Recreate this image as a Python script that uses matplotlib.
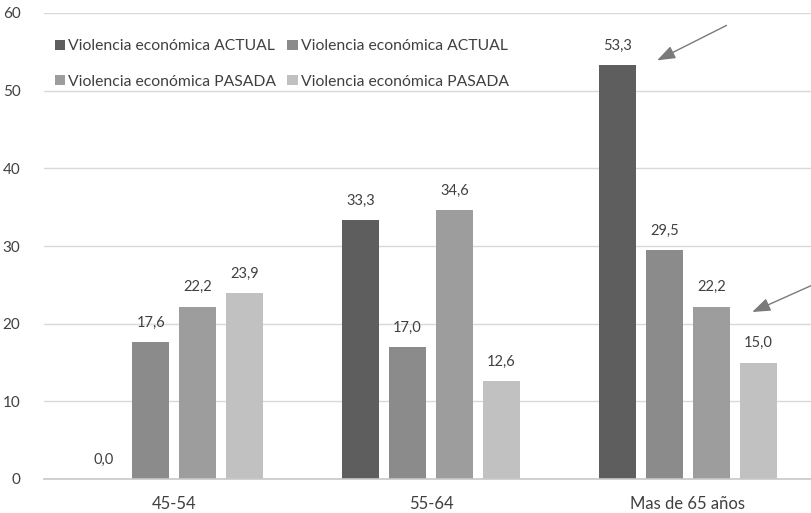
import matplotlib
matplotlib.use("Agg")
import matplotlib.pyplot as plt
import numpy as np

categories = ["45-54", "55-64", "Mas de 65 años"]
series_names = ["Violencia económica ACTUAL", "Violencia económica ACTUAL",
                "Violencia económica PASADA", "Violencia económica PASADA"]
s1 = [0.0, 33.3, 53.3]
s2 = [17.6, 17.0, 29.5]
s3 = [22.2, 34.6, 22.2]
s4 = [23.9, 12.6, 15.0]
colors = ["#5e5e5e", "#8b8b8b", "#9d9d9d", "#c1c1c1"]
yticks = [0, 10, 20, 30, 40, 50, 60]

plt.rcParams["font.family"] = ["Lato", "DejaVu Sans"]
fig = plt.figure(figsize=(8.11, 5.13), dpi=100)
ax = fig.add_axes([44 / 811, 34 / 513, 767 / 811, 466 / 513])

x = np.arange(len(categories))
width = 0.144
pitch = 0.182
offsets = (np.arange(4) - 1.5) * pitch
handles = []
for vals, off, col, name in zip([s1, s2, s3, s4], offsets, colors, series_names):
    bars = ax.bar(x + off, vals, width=width, color=col, label=name, zorder=2)
    handles.append(bars)
    for xi, v in zip(x + off, vals):
        ax.text(xi, v + 1.6, f"{v:.1f}".replace(".", ","), ha="center", va="bottom",
                fontsize=10.5, color="#404040")

ax.set_xlim(-0.506, 2.479)
ax.set_ylim(0, 60)
ax.set_yticks(yticks)
ax.set_yticklabels([str(t) for t in yticks])
ax.set_xticks(x)
ax.set_xticklabels(categories)
ax.tick_params(axis="both", length=0, labelcolor="#404040")
ax.tick_params(axis="y", pad=17, labelsize=11)
ax.tick_params(axis="x", pad=12, labelsize=12)
ax.yaxis.grid(True, color="#d9d9d9", linewidth=1, zorder=0)
for s in ["top", "right", "left"]:
    ax.spines[s].set_visible(False)
ax.spines["bottom"].set_color("#c8c8c8")
ax.spines["bottom"].set_linewidth(1.2)

# legend fills column-wise: ACTUAL pair on the first row, PASADA pair on the second
order = [0, 2, 1, 3]
leg = ax.legend(handles=[handles[i] for i in order], ncol=2, loc="upper left",
                bbox_to_anchor=(0.0, 0.967), frameon=False, fontsize=11.3,
                handlelength=0.65, handleheight=0.65, handletextpad=0.2,
                columnspacing=0.7, labelspacing=1.35, borderaxespad=0.3)
for t in leg.get_texts():
    t.set_color("#404040")

arrow_kw = dict(arrowstyle="-|>,head_length=1.1,head_width=0.4", color="#7a7a7a", lw=1.0,
                shrinkA=0, shrinkB=0)
ax.annotate("", xy=(1.88, 53.9), xytext=(2.15, 58.4), arrowprops=arrow_kw,
            annotation_clip=False)
ax.annotate("", xy=(2.25, 21.5), xytext=(2.50, 25.2), arrowprops=arrow_kw,
            annotation_clip=False)

fig.savefig("out.png", dpi=100)
